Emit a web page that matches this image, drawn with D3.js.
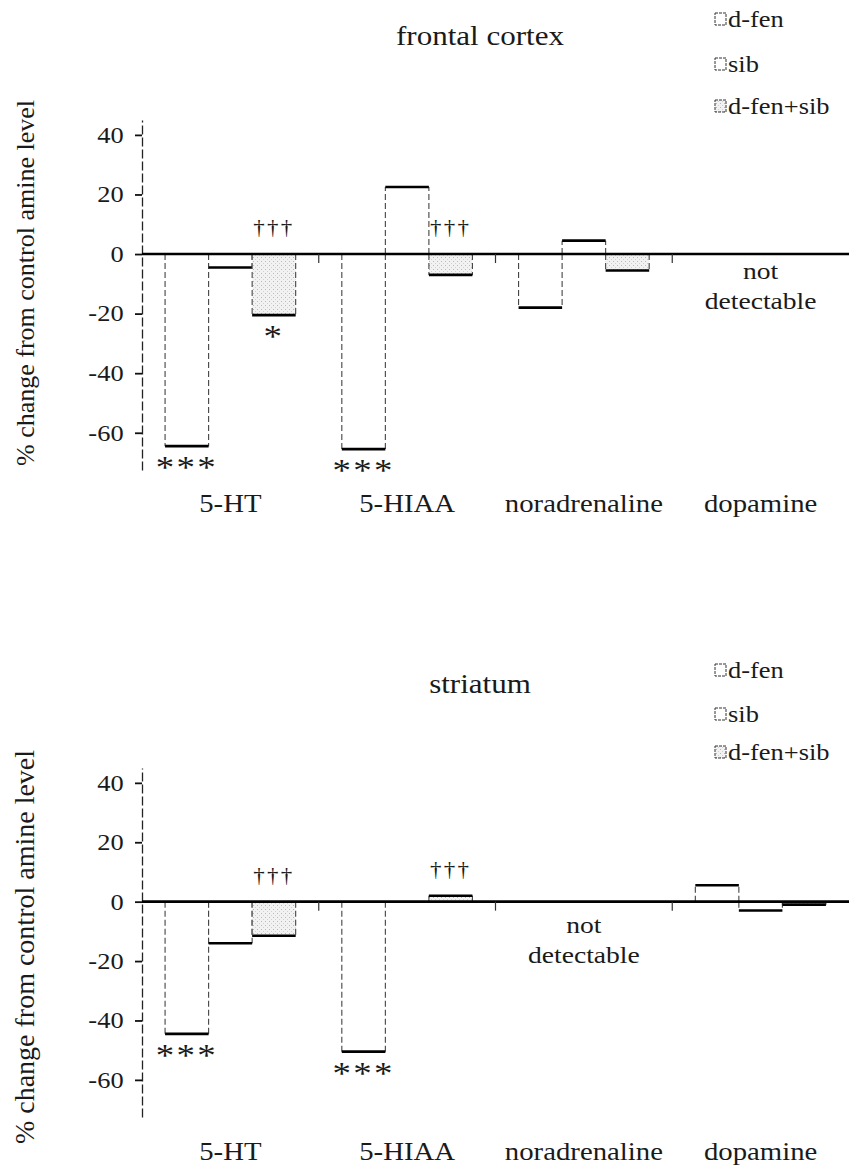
<!doctype html>
<html lang="en">
<head>
<meta charset="utf-8">
<title>amine levels</title>
<script src="https://d3js.org/d3.v7.min.js"></script>
<style>
  body { margin: 0; background: #fff; }
</style>
</head>
<body>
<script>
// categories and series
var groups = ["5-HT", "5-HIAA", "noradrenaline", "dopamine"];
var series = ["d-fen", "sib", "d-fen+sib"];
var yTicks = [-60, -40, -20, 0, 20, 40];

// % change from control, null = not detectable
var cortexDfen  = [-64.5, -65.5, -18, null];
var cortexSib   = [-4.5, 22.5, 4.5, null];
var cortexCombo = [-20.5, -7, -5.5, null];

var striatumDfen  = [-44.5, -50.5, null, 5.5];
var striatumSib   = [-14, 0, null, -3];
var striatumCombo = [-11.5, 2, null, -1];

// significance marks
var cortexMarks = [
  { group: "5-HT", s: "d-fen", text: "***" },
  { group: "5-HT", s: "d-fen+sib", text: "*" },
  { group: "5-HT", s: "d-fen+sib", text: "†††" },
  { group: "5-HIAA", s: "d-fen", text: "***" },
  { group: "5-HIAA", s: "d-fen+sib", text: "†††" }
];
var striatumMarks = [
  { group: "5-HT", s: "d-fen", text: "***" },
  { group: "5-HT", s: "d-fen+sib", text: "†††" },
  { group: "5-HIAA", s: "d-fen", text: "***" },
  { group: "5-HIAA", s: "d-fen+sib", text: "†††" }
];

var W = 849, H = 1165;
var SERIF = "'Liberation Serif', serif";
var STRETCH = 1.15;

var svg = d3.select("body").append("svg").attr("width", W).attr("height", H);

var defs = svg.append("defs");
var pat = defs.append("pattern").attr("id", "stip")
  .attr("width", 4).attr("height", 4).attr("patternUnits", "userSpaceOnUse");
pat.append("rect").attr("width", 4).attr("height", 4).attr("fill", "#f2f2f2");
pat.append("rect").attr("x", 1).attr("y", 1).attr("width", 1).attr("height", 1).attr("fill", "#b8b8b8");
pat.append("rect").attr("x", 3).attr("y", 3).attr("width", 1).attr("height", 1).attr("fill", "#d0d0d0");

var fills = { "d-fen": "#fff", "sib": "#fff", "d-fen+sib": "url(#stip)" };

// serif text, a little wider than normal like the scan
function label(parent, x, y, txt, size, anchor) {
  return parent.append("text")
    .attr("transform", "translate(" + x + "," + y + ") scale(" + STRETCH + ",1)")
    .attr("text-anchor", anchor || "middle")
    .style("font-family", SERIF).style("font-size", size + "px").attr("fill", "#1a1a1a")
    .text(txt);
}

function drawPanel(p) {
  var g = svg.append("g");
  var x = d3.scaleBand().domain(groups).range([142, 849]);
  var xs = d3.scaleBand().domain(series).range([0, x.bandwidth()]).paddingOuter(0.53);
  var y = d3.scaleLinear().domain([-72.5, 45]).range([p.bottom, p.top]);

  var rows = [];
  groups.forEach(function (gr, i) {
    series.forEach(function (s, j) {
      var v = p.values[j][i];
      if (v !== null && v !== 0) rows.push({ group: gr, s: s, v: v });
    });
  });

  // y axis
  var ya = g.append("g").attr("transform", "translate(142,0)")
    .call(d3.axisLeft(y).tickValues(yTicks).tickSize(7).tickSizeOuter(0).tickPadding(9)
      .tickFormat(function (d) { return String(d); }));
  ya.select(".domain").attr("stroke", "#222").attr("stroke-width", 1.3).attr("stroke-dasharray", "9,3");
  ya.selectAll(".tick line").attr("stroke", "#111").attr("stroke-width", 1.8);
  ya.selectAll(".tick text")
    .style("font-family", SERIF).style("font-size", "23px").attr("fill", "#1a1a1a")
    .attr("transform", "scale(" + STRETCH + ",1)");

  // bars
  var bar = g.selectAll(".bar").data(rows).enter().append("g").attr("class", "bar");
  bar.append("rect")
    .attr("x", function (d) { return x(d.group) + xs(d.s); })
    .attr("y", function (d) { return Math.min(y(0), y(d.v)); })
    .attr("width", xs.bandwidth())
    .attr("height", function (d) { return Math.abs(y(d.v) - y(0)); })
    .attr("fill", function (d) { return fills[d.s]; });
  bar.selectAll(".side").data(function (d) {
    return [{ d: d, xx: x(d.group) + xs(d.s) }, { d: d, xx: x(d.group) + xs(d.s) + xs.bandwidth() }];
  }).enter().append("line")
    .attr("x1", function (e) { return e.xx; }).attr("x2", function (e) { return e.xx; })
    .attr("y1", function (e) { return y(0); }).attr("y2", function (e) { return y(e.d.v); })
    .attr("stroke", "#444").attr("stroke-width", 1.1).attr("stroke-dasharray", "6,3");
  bar.append("line")
    .attr("x1", function (d) { return x(d.group) + xs(d.s); })
    .attr("x2", function (d) { return x(d.group) + xs(d.s) + xs.bandwidth(); })
    .attr("y1", function (d) { return y(d.v); }).attr("y2", function (d) { return y(d.v); })
    .attr("stroke", "#000").attr("stroke-width", 2.6);

  // x axis at zero
  g.append("line").attr("x1", 142).attr("x2", 849).attr("y1", y(0)).attr("y2", y(0))
    .attr("stroke", "#000").attr("stroke-width", 2.6);
  g.selectAll(".xt").data(groups.slice(1)).enter().append("line")
    .attr("x1", function (d) { return x(d); }).attr("x2", function (d) { return x(d); })
    .attr("y1", y(0)).attr("y2", y(0) + 9)
    .attr("stroke", "#333").attr("stroke-width", 1.2);

  groups.forEach(function (gr) {
    label(g, x(gr) + x.bandwidth() / 2, p.labelY, gr, 25);
  });

  // not detectable
  p.missing.forEach(function (gr) {
    label(g, x(gr) + x.bandwidth() / 2, y(0) + p.ndOffset, "not", 24);
    label(g, x(gr) + x.bandwidth() / 2, y(0) + p.ndOffset + 30, "detectable", 24);
  });

  // marks
  p.marks.forEach(function (d) {
    var v = p.values[series.indexOf(d.s)][groups.indexOf(d.group)];
    var cx = x(d.group) + xs(d.s) + xs.bandwidth() / 2;
    if (d.text === "†††") {
      label(g, cx, y(Math.max(v, 0)) - 20, d.text, 20).style("letter-spacing", "2px");
    } else {
      label(g, cx, y(v) + 32, d.text, 32).style("letter-spacing", "2px");
    }
  });

  // title
  label(g, 480, p.titleY, p.title, 27);

  // y label
  g.append("text").attr("transform", "translate(34," + p.labelMid + ") rotate(-90)")
    .attr("text-anchor", "middle")
    .style("font-family", SERIF).style("font-size", p.labelSize + "px").attr("fill", "#1a1a1a")
    .text("% change from control amine level");

  // legend
  var lg = g.selectAll(".lg").data(series).enter().append("g")
    .attr("transform", function (d, i) { return "translate(715," + p.legendY[i] + ")"; });
  lg.append("rect").attr("x", 0).attr("y", -6).attr("width", 11).attr("height", 12)
    .attr("fill", function (d) { return fills[d]; })
    .attr("stroke", "#333").attr("stroke-width", 1).attr("stroke-dasharray", "3,1");
  lg.each(function (d) {
    label(d3.select(this), 13, 8, d, 23, "start");
  });
}

drawPanel({
  title: "frontal cortex", titleY: 45, top: 120, bottom: 470, labelY: 512, labelMid: 283, labelSize: 26,
  values: [cortexDfen, cortexSib, cortexCombo], marks: cortexMarks, missing: ["dopamine"],
  legendY: [19, 64, 106], ndOffset: 25
});
drawPanel({
  title: "striatum", titleY: 693, top: 768, bottom: 1117, labelY: 1160, labelMid: 947, labelSize: 28,
  values: [striatumDfen, striatumSib, striatumCombo], marks: striatumMarks, missing: ["noradrenaline"],
  legendY: [670, 714, 752], ndOffset: 31
});
</script>
</body>
</html>
